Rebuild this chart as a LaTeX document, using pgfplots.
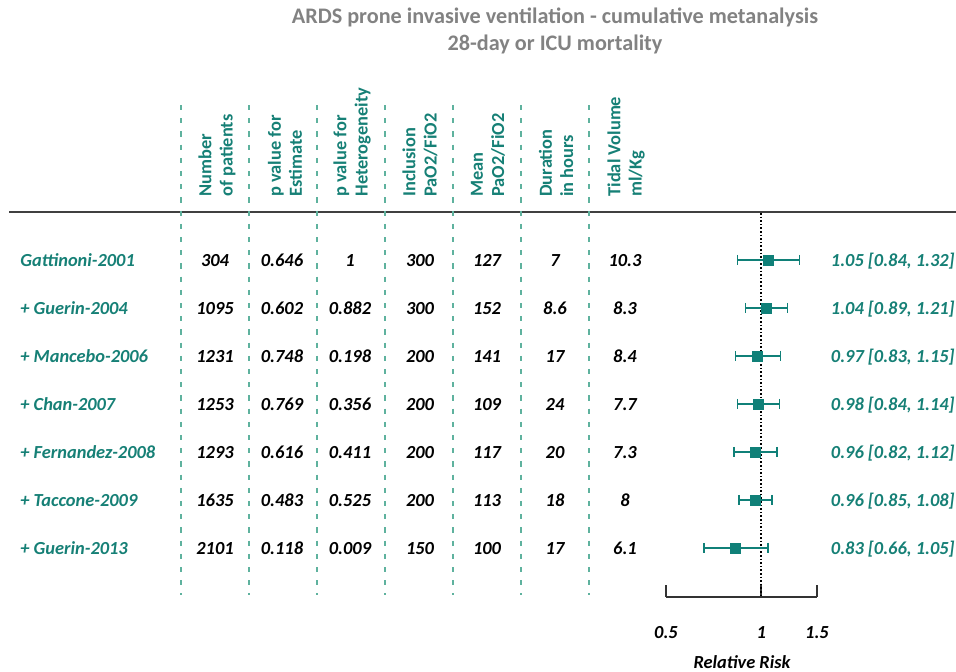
\documentclass[border=0pt]{standalone}
\usepackage{fontspec}
\setmainfont{Carlito}
\usepackage{pgfplots}
\usepackage{pgfplotstable}
\pgfplotsset{compat=1.18}
\definecolor{tealtxt}{RGB}{22,128,118}
\definecolor{tealdash}{RGB}{95,178,158}
\definecolor{titlegray}{RGB}{130,130,130}
\definecolor{markteal}{RGB}{16,128,120}

\pgfplotstableread{
y   est  lo   hi
260 1.05 0.84 1.32
308 1.04 0.89 1.21
356 0.97 0.83 1.15
404 0.98 0.84 1.14
452 0.96 0.82 1.12
500 0.96 0.85 1.08
548 0.83 0.66 1.05
}\forest

\begin{document}
\begin{tikzpicture}
\useasboundingbox (0,0) rectangle (478pt,335.5pt);
\begin{scope}[x=0.5pt,y=-0.5pt,shift={(0pt,335.5pt)}]
  % title
  \node[titlegray, font=\fontsize{11.1}{13.6}\selectfont\bfseries, align=center] at (555,31) {ARDS prone invasive ventilation - cumulative metanalysis\\28-day or ICU mortality};
  % header rule
  \draw[black!75, line width=1.1pt] (9,212) -- (956,212);
  % dashed separators
  \foreach \x in {181,249,317,385,453,521,589}
    \draw[tealdash, line width=1pt, dash pattern=on 2.6pt off 4pt] (\x,105) -- (\x,595);
  % headers
  \foreach \x/\t in {217/{Number\\of patients},285/{p value for\\Estimate},352/{p value for\\Heterogeneity},420/{Inclusion\\PaO2/FiO2},488/{Mean\\PaO2/FiO2},556/{Duration\\in hours},626/{Tidal Volume\\ml/Kg}}
    \node[rotate=90, anchor=west, align=left, tealtxt, inner sep=0pt, font=\fontsize{9.2}{10.6}\selectfont\bfseries] at (\x,197) {\t};
  % row labels and values
  \foreach \y/\lab/\a/\b/\c/\d/\e/\f/\g/\ci in {
    260/{Gattinoni-2001}/304/0.646/1/300/127/7/10.3/{1.05 [0.84, 1.32]},
    308/{+ Guerin-2004}/1095/0.602/0.882/300/152/8.6/8.3/{1.04 [0.89, 1.21]},
    356/{+ Mancebo-2006}/1231/0.748/0.198/200/141/17/8.4/{0.97 [0.83, 1.15]},
    404/{+ Chan-2007}/1253/0.769/0.356/200/109/24/7.7/{0.98 [0.84, 1.14]},
    452/{+ Fernandez-2008}/1293/0.616/0.411/200/117/20/7.3/{0.96 [0.82, 1.12]},
    500/{+ Taccone-2009}/1635/0.483/0.525/200/113/18/8/{0.96 [0.85, 1.08]},
    548/{+ Guerin-2013}/2101/0.118/0.009/150/100/17/6.1/{0.83 [0.66, 1.05]}} {
    \begin{scope}[every node/.style={inner sep=0pt, font=\fontsize{9.2}{10}\selectfont\bfseries\itshape}]
    \node[anchor=base west, tealtxt] at (20,\y+6) {\lab};
    \node[anchor=base] at (215,\y+6) {\a};
    \node[anchor=base] at (282,\y+6) {\b};
    \node[anchor=base] at (350,\y+6) {\c};
    \node[anchor=base] at (420,\y+6) {\d};
    \node[anchor=base] at (487,\y+6) {\e};
    \node[anchor=base] at (555,\y+6) {\f};
    \node[anchor=base] at (625,\y+6) {\g};
    \node[anchor=base east, tealtxt] at (955,\y+6) {\ci};
    \end{scope}
  }
  \node[font=\fontsize{9.2}{10}\selectfont\bfseries\itshape, inner sep=0pt] at (742,662) {Relative Risk};
\end{scope}
\begin{axis}[
  at={(333pt,37pt)}, anchor=south west,
  scale only axis, width=75.5pt, height=191pt,
  xmode=log, xmin=0.5, xmax=1.5,
  ymin=215, ymax=597, y dir=reverse,
  axis x line*=bottom, axis y line=none,
  x axis line style={black!80, line width=0.9pt, -},
  xtick={0.5,1,1.5}, xticklabels={0.5,1,1.5},
  minor xtick={}, xminorticks=false,
  tick align=inside, major tick length=6pt,
  xtick style={black!80, line width=0.9pt},
  xticklabel style={font=\fontsize{9.2}{10}\selectfont\bfseries\itshape, yshift=-11pt},
  clip=false,
]
\addplot[black, densely dotted, line width=0.8pt] coordinates {(1,213) (1,597)};
\addplot[markteal, line width=0.7pt, mark=|, mark size=2.6pt, unbounded coords=jump] coordinates {
  (0.84,260) (1.32,260) (nan,nan)
  (0.89,308) (1.21,308) (nan,nan)
  (0.83,356) (1.15,356) (nan,nan)
  (0.84,404) (1.14,404) (nan,nan)
  (0.82,452) (1.12,452) (nan,nan)
  (0.85,500) (1.08,500) (nan,nan)
  (0.66,548) (1.05,548)
};
\addplot[only marks, mark=square*, mark size=2.5pt, markteal] table[x=est, y=y] {\forest};
\end{axis}
\end{tikzpicture}
\end{document}
